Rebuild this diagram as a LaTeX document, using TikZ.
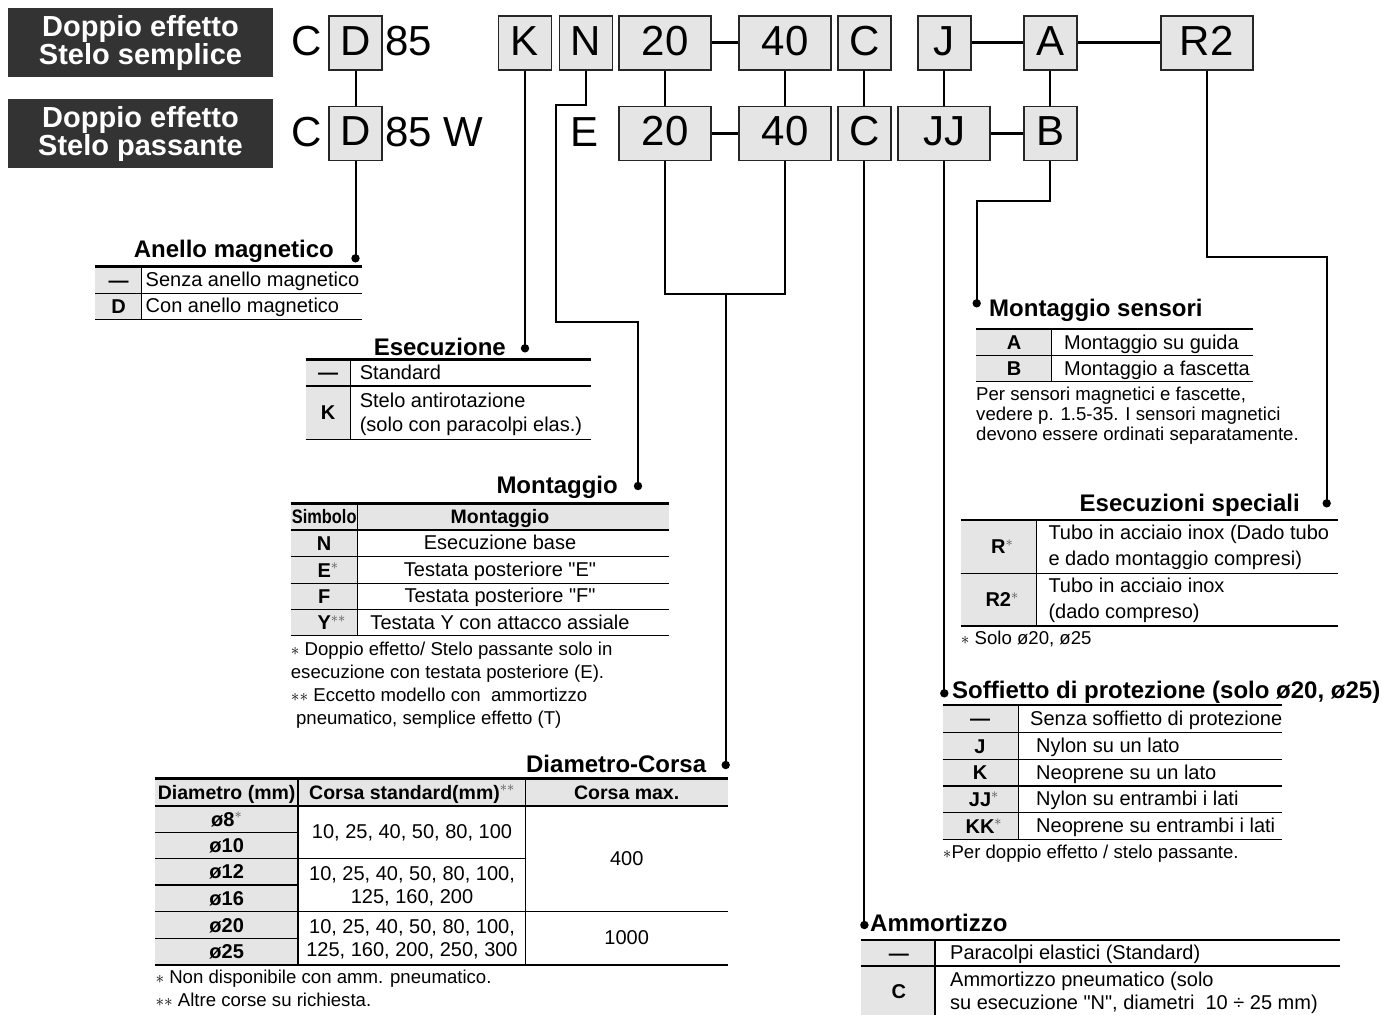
\documentclass[tikz,border=0pt]{standalone}
\usepackage{fontspec}
\setmainfont{Liberation Sans}
\newfontfamily\plainfont{Liberation Sans}
\usepackage{graphicx}
\newcommand\codefont{\fontsize{42}{42}\selectfont}
\newcommand\ttlfont{\bfseries\fontsize{24}{28}\selectfont}
\newcommand\celfont{\fontsize{20}{24}\selectfont}
\newcommand\symfont{\bfseries\fontsize{20}{24}\selectfont}
\newcommand\hdfont{\bfseries\fontsize{19.5}{24}\selectfont}
\newcommand\notefont{\fontsize{18.6}{20}\selectfont}
\newcommand\darkfont{\bfseries\fontsize{29}{30}\selectfont}
\newcommand\myast{$\ast$}
\newcommand\supast{\textcolor{black!70}{$^{\ast}$}}
\newcommand\supastast{\textcolor{black!70}{$^{\ast\ast}$}}
\newcommand\qq{{\plainfont"}}
\begin{document}
\begin{tikzpicture}[x=1pt,y=-1pt,
  codebox/.style={draw=black!85, line width=1.8pt, fill=black!10, inner sep=0pt,
    minimum height=54pt, text height=30pt, text depth=5.4pt, font=\codefont},
  sbox/.style={codebox, minimum width=53pt},
  lbox/.style={codebox, minimum width=92pt},
  codetxt/.style={anchor=base west, font=\codefont, inner sep=0pt},
  wire/.style={line width=2pt, black},
  bar/.style={line width=3.5pt, black},
  ttl/.style={font=\ttlfont, inner sep=0pt},
  cell/.style={font=\celfont, inner sep=0pt, anchor=base west, yshift=-6.5pt},
  ccell/.style={font=\celfont, inner sep=0pt, anchor=base, yshift=-6.5pt},
  sym/.style={font=\symfont, inner sep=0pt, text height=14.3pt, text depth=0pt},
  hd/.style={font=\hdfont, inner sep=0pt, text height=14pt, text depth=0pt},
  note/.style={font=\notefont, inner sep=0pt, anchor=base west, yshift=-6pt},
  topline/.style={line width=2.5pt},
  rule/.style={line width=1.2pt},
  shade/.style={fill=black!10},
  whitehead/.style={font=\darkfont, text=white, inner sep=0pt, anchor=base}]
\useasboundingbox (0,0) rectangle (1382,1015);

% ---------- dark headings ----------
\fill[black!80] (8,8) rectangle (273,77);
\fill[black!80] (8,99) rectangle (273,168);
\node[whitehead] (h1a) at (140.5,36.5) {Doppio effetto};
\node[whitehead] (h1b) at (140.5,64) {Stelo semplice};
\node[whitehead] (h2a) at (140.5,127.5) {Doppio effetto};
\node[whitehead] (h2b) at (140.5,155) {Stelo passante};

% ---------- code row 1 ----------
\node[codetxt] (c1) at (291,55) {C};
\node[sbox] (D1) at (355.5,42.7) {D};
\node[codetxt] (n85a) at (385,55) {85};
\node[sbox] (K) at (525,42.7) {K};
\node[sbox] (N) at (586,42.7) {N};
\node[lbox] (A20) at (665,42.7) {20};
\node[lbox] (A40) at (785,42.7) {40};
\node[sbox] (AC) at (864.4,42.7) {C};
\node[sbox] (AJ) at (944.3,42.7) {J};
\node[sbox] (AA) at (1050.4,42.7) {A};
\node[lbox] (R2) at (1206.8,42.7) {R2};
% ---------- code row 2 ----------
\node[codetxt] (c2) at (291,146) {C};
\node[sbox] (D2) at (355.5,133.5) {D};
\node[codetxt] (n85b) at (385,146) {85 W};
\node[codetxt] (E2) at (570,146) {E};
\node[lbox] (B20) at (665,133.5) {20};
\node[lbox] (B40) at (785,133.5) {40};
\node[sbox] (BC) at (864.4,133.5) {C};
\node[lbox] (BJJ) at (944.3,133.5) {JJ};
\node[sbox] (BB) at (1050.4,133.5) {B};

\draw[bar] (A20.east) -- (A40.west);
\draw[bar] (AJ.east) -- (AA.west);
\draw[bar] (AA.east) -- (R2.west);
\draw[bar] (B20.east) -- (B40.west);
\draw[bar] (BJJ.east) -- (BB.west);

% ---------- dots ----------
\coordinate (pAnello) at (355.5,258.3);
\coordinate (pEsec) at (525,348.3);
\coordinate (pMont) at (638,486);
\coordinate (pDiam) at (725.7,765);
\coordinate (pSens) at (976.7,303.3);
\coordinate (pSpec) at (1326.7,503.3);
\coordinate (pSoff) at (944.3,693.3);
\coordinate (pAmm) at (864.4,925);
\coordinate (jDiam) at (725.7,294.3);

% ---------- connectors ----------
\draw[wire] (D1.south) -- (D2.north);
\draw[wire] (D2.south) -- (pAnello);
\draw[wire] (K.south) -- (pEsec);
\draw[wire] (N.south) -- (586,105) -- (556,105) -- (556,322) -- (638,322) -- (pMont);
\draw[wire] (A20.south) -- (B20.north);
\draw[wire] (A40.south) -- (B40.north);
\draw[wire] (AC.south) -- (BC.north);
\draw[wire] (AJ.south) -- (BJJ.north);
\draw[wire] (AA.south) -- (BB.north);
\draw[wire] (B20.south) -- (665,294.3) -- (785,294.3) -- (B40.south);
\draw[wire] (jDiam) -- (pDiam);
\draw[wire] (BC.south) -- (pAmm);
\draw[wire] (BJJ.south) -- (pSoff);
\draw[wire] (BB.south) -- (1050.4,200.7) -- (976.7,200.7) -- (pSens);
\draw[wire] (R2.south) -- (1206.8,256.7) -- (1326.7,256.7) -- (pSpec);
\foreach \p in {pAnello,pEsec,pMont,pDiam,pSens,pSpec,pSoff,pAmm}
  \fill (\p) circle (4.2pt);

% ---------- titles ----------
\node[ttl, anchor=base east] (tAnello) at (334,257) {Anello magnetico};
\node[ttl, anchor=base east] (tEsec) at (506,355) {Esecuzione};
\node[ttl, anchor=base east] (tMont) at (618,493) {Montaggio};
\node[ttl, anchor=base east] (tDiam) at (706.4,772) {Diametro-Corsa};
\node[ttl, anchor=base west] (tSens) at (989,316) {Montaggio sensori};
\node[ttl, anchor=base east] (tSpec) at (1300,511.5) {Esecuzioni speciali};
\node[ttl, anchor=base west] (tSoff) at (952,698) {Soffietto di protezione (solo ø20, ø25)};
\node[ttl, anchor=base west] (tAmm) at (870,931.5) {Ammortizzo};

% ---------- Anello magnetico ----------
\fill[shade] (95.4,266.7) rectangle (141.8,319.3);
\draw[rule] (95.4,293.3) -- (362,293.3);
\draw[rule] (95.4,319.3) -- (362,319.3);
\draw[rule] (141.8,266.7) -- (141.8,319.3);
\draw[topline] (95.4,266.7) -- (362,266.7);
\node[sym] (an1) at (118.6,280) {—};
\node[cell] (an1t) at (145.5,280) {Senza anello magnetico};
\node[sym] (an2) at (118.6,306.3) {D};
\node[cell] (an2t) at (145.5,306.3) {Con anello magnetico};

% ---------- Esecuzione ----------
\fill[shade] (305.7,359.3) rectangle (350.7,439.3);
\draw[rule] (305.7,386) -- (590.7,386);
\draw[rule] (305.7,439.3) -- (590.7,439.3);
\draw[rule] (350.7,359.3) -- (350.7,439.3);
\draw[topline] (305.7,359.3) -- (590.7,359.3);
\node[sym] (es1) at (328.2,372.7) {—};
\node[cell] (es1t) at (359.6,373) {Standard};
\node[sym] (es2) at (328.2,412.7) {K};
\node[cell] (es2t) at (359.6,401) {Stelo antirotazione};
\node[cell] (es2u) at (359.6,424.5) {(solo con paracolpi elas.)};

% ---------- Montaggio ----------
\fill[shade] (290.7,503.3) rectangle (669.3,530);
\fill[shade] (290.7,530) rectangle (357.7,635.7);
\foreach \yy in {530,556.7,583.3,609.3,635.7}
  \draw[rule] (290.7,\yy) -- (669.3,\yy);
\draw[rule] (357.7,503.3) -- (357.7,635.7);
\draw[topline] (290.7,503.3) -- (669.3,503.3);
\node[hd] (mh1) at (324.2,516.7) {\scalebox{0.84}[1]{Simbolo}};
\node[hd] (mh2) at (500,516.7) {Montaggio};
\node[sym] (m1) at (324.2,543.3) {N};
\node[ccell] (m1t) at (500,543.3) {Esecuzione base};
\node[sym] (m2) at (324.2,570) {E\rlap{\supast}};
\node[ccell] (m2t) at (500,570) {Testata posteriore \qq E\qq};
\node[sym] (m3) at (324.2,596.3) {F};
\node[ccell] (m3t) at (500,596.3) {Testata posteriore \qq F\qq};
\node[sym] (m4) at (324.2,622.5) {Y\rlap{\supastast}};
\node[ccell] (m4t) at (500,622.5) {Testata Y con attacco assiale};
\node[note] (mn1) at (290.7,649) {\myast{} Doppio effetto/ Stelo passante solo in};
\node[note] (mn2) at (290.7,672) {esecuzione con testata posteriore (E).};
\node[note] (mn3) at (290.7,695) {\myast\myast{} Eccetto modello con\ \ ammortizzo};
\node[note] (mn4) at (290.7,718) {\ pneumatico, semplice effetto (T)};

% ---------- Diametro-Corsa ----------
\fill[shade] (155.3,778.3) rectangle (727.5,806);
\fill[shade] (155.3,806) rectangle (298,965);
\draw[rule] (155.3,806) -- (727.5,806);
\draw[rule] (155.3,832.3) -- (298,832.3);
\draw[rule] (155.3,858.3) -- (525.8,858.3);
\draw[rule] (155.3,885) -- (298,885);
\draw[rule] (155.3,911.7) -- (727.5,911.7);
\draw[rule] (155.3,938.3) -- (298,938.3);
\draw[rule] (155.3,965) -- (727.5,965);
\draw[rule] (298,778.3) -- (298,965);
\draw[rule] (525.8,778.3) -- (525.8,965);
\draw[topline] (155.3,778.3) -- (727.5,778.3);
\node[hd] (dh1) at (226.7,792) {Diametro (mm)};
\node[hd] (dh2) at (412,792) {Corsa standard(mm)\supastast};
\node[hd] (dh3) at (626.7,792) {Corsa max.};
\node[sym] (d1) at (226.7,819.2) {ø8\supast};
\node[sym] (d2) at (226.7,845.3) {ø10};
\node[sym] (d3) at (226.7,871.7) {ø12};
\node[sym] (d4) at (226.7,898.3) {ø16};
\node[sym] (d5) at (226.7,925) {ø20};
\node[sym] (d6) at (226.7,951.7) {ø25};
\node[ccell] (dc1) at (412,832) {10, 25, 40, 50, 80, 100};
\node[ccell] (dc2) at (412,873.5) {10, 25, 40, 50, 80, 100,};
\node[ccell] (dc3) at (412,897) {125, 160, 200};
\node[ccell] (dc4) at (412,926.6) {10, 25, 40, 50, 80, 100,};
\node[ccell] (dc5) at (412,950.1) {125, 160, 200, 250, 300};
\node[ccell] (dm1) at (626.7,858.5) {400};
\node[ccell] (dm2) at (626.7,938.3) {1000};
\node[note] (dn1) at (155.3,977.5) {\myast{} Non disponibile con amm. pneumatico.};
\node[note] (dn2) at (155.3,1000) {\myast\myast{} Altre corse su richiesta.};

% ---------- Montaggio sensori ----------
\fill[shade] (976,329) rectangle (1051.7,381.7);
\draw[rule] (976,355.7) -- (1253.3,355.7);
\draw[rule] (976,381.7) -- (1253.3,381.7);
\draw[rule] (1051.7,329) -- (1051.7,381.7);
\draw[topline] (976,329) -- (1253.3,329);
\node[sym] (s1) at (1014,342.3) {A};
\node[cell] (s1t) at (1064,342.5) {Montaggio su guida};
\node[sym] (s2) at (1014,368.7) {B};
\node[cell] (s2t) at (1064,368.7) {Montaggio a fascetta};
\node[note] (sn1) at (976,394.5) {Per sensori magnetici e fascette,};
\node[note] (sn2) at (976,414.5) {vedere p. 1.5-35. I sensori magnetici};
\node[note] (sn3) at (976,434.5) {devono essere ordinati separatamente.};

% ---------- Esecuzioni speciali ----------
\fill[shade] (960.7,520) rectangle (1036.7,626);
\draw[rule] (960.7,573.3) -- (1338.3,573.3);
\draw[rule] (960.7,626) -- (1338.3,626);
\draw[rule] (1036.7,520) -- (1036.7,626);
\draw[topline] (960.7,520) -- (1338.3,520);
\node[sym] (x1) at (998.3,546.7) {R\rlap{\supast}};
\node[cell] (x1t) at (1048.3,533.3) {Tubo in acciaio inox (Dado tubo};
\node[cell] (x1u) at (1048.3,559) {e dado montaggio compresi)};
\node[sym] (x2) at (998.3,599.7) {R2\rlap{\supast}};
\node[cell] (x2t) at (1048.3,586) {Tubo in acciaio inox};
\node[cell] (x2u) at (1048.3,611.5) {(dado compreso)};
\node[note] (xn1) at (960.7,638.5) {\myast{} Solo ø20, ø25};

% ---------- Soffietto ----------
\fill[shade] (942.7,705) rectangle (1018.3,839.3);
\foreach \yy in {732.7,759.3,786,812.7,839.3}
  \draw[rule] (942.7,\yy) -- (1281.7,\yy);
\draw[rule] (1018.3,705) -- (1018.3,839.3);
\draw[topline] (942.7,705) -- (1281.7,705);
\node[sym] (f1) at (980,718.8) {—};
\node[cell] (f1t) at (1030,719) {Senza soffietto di protezione};
\node[sym] (f2) at (980,746) {J};
\node[cell] (f2t) at (1036,746) {Nylon su un lato};
\node[sym] (f3) at (980,772.7) {K};
\node[cell] (f3t) at (1036,772.7) {Neoprene su un lato};
\node[sym] (f4) at (980,799.3) {JJ\rlap{\supast}};
\node[cell] (f4t) at (1036,799.3) {Nylon su entrambi i lati};
\node[sym] (f5) at (980,826) {KK\rlap{\supast}};
\node[cell] (f5t) at (1036,826) {Neoprene su entrambi i lati};
\node[note] (fn1) at (942.7,852.5) {\myast Per doppio effetto / stelo passante.};

% ---------- Ammortizzo ----------
\fill[shade] (860.7,940) rectangle (935,1015);
\draw[rule] (860.7,966) -- (1339.5,966);
\draw[rule] (935,940) -- (935,1015);
\draw[topline] (860.7,940) -- (1339.5,940);
\node[sym] (am1) at (898.8,953) {—};
\node[cell] (am1t) at (950,953) {Paracolpi elastici (Standard)};
\node[sym] (am2) at (898.8,991) {C};
\node[cell] (am2t) at (950,979.5) {Ammortizzo pneumatico (solo};
\node[cell] (am2u) at (950,1003) {su esecuzione \qq N\qq, diametri\ \ 10 ÷ 25 mm)};
\end{tikzpicture}
\end{document}
